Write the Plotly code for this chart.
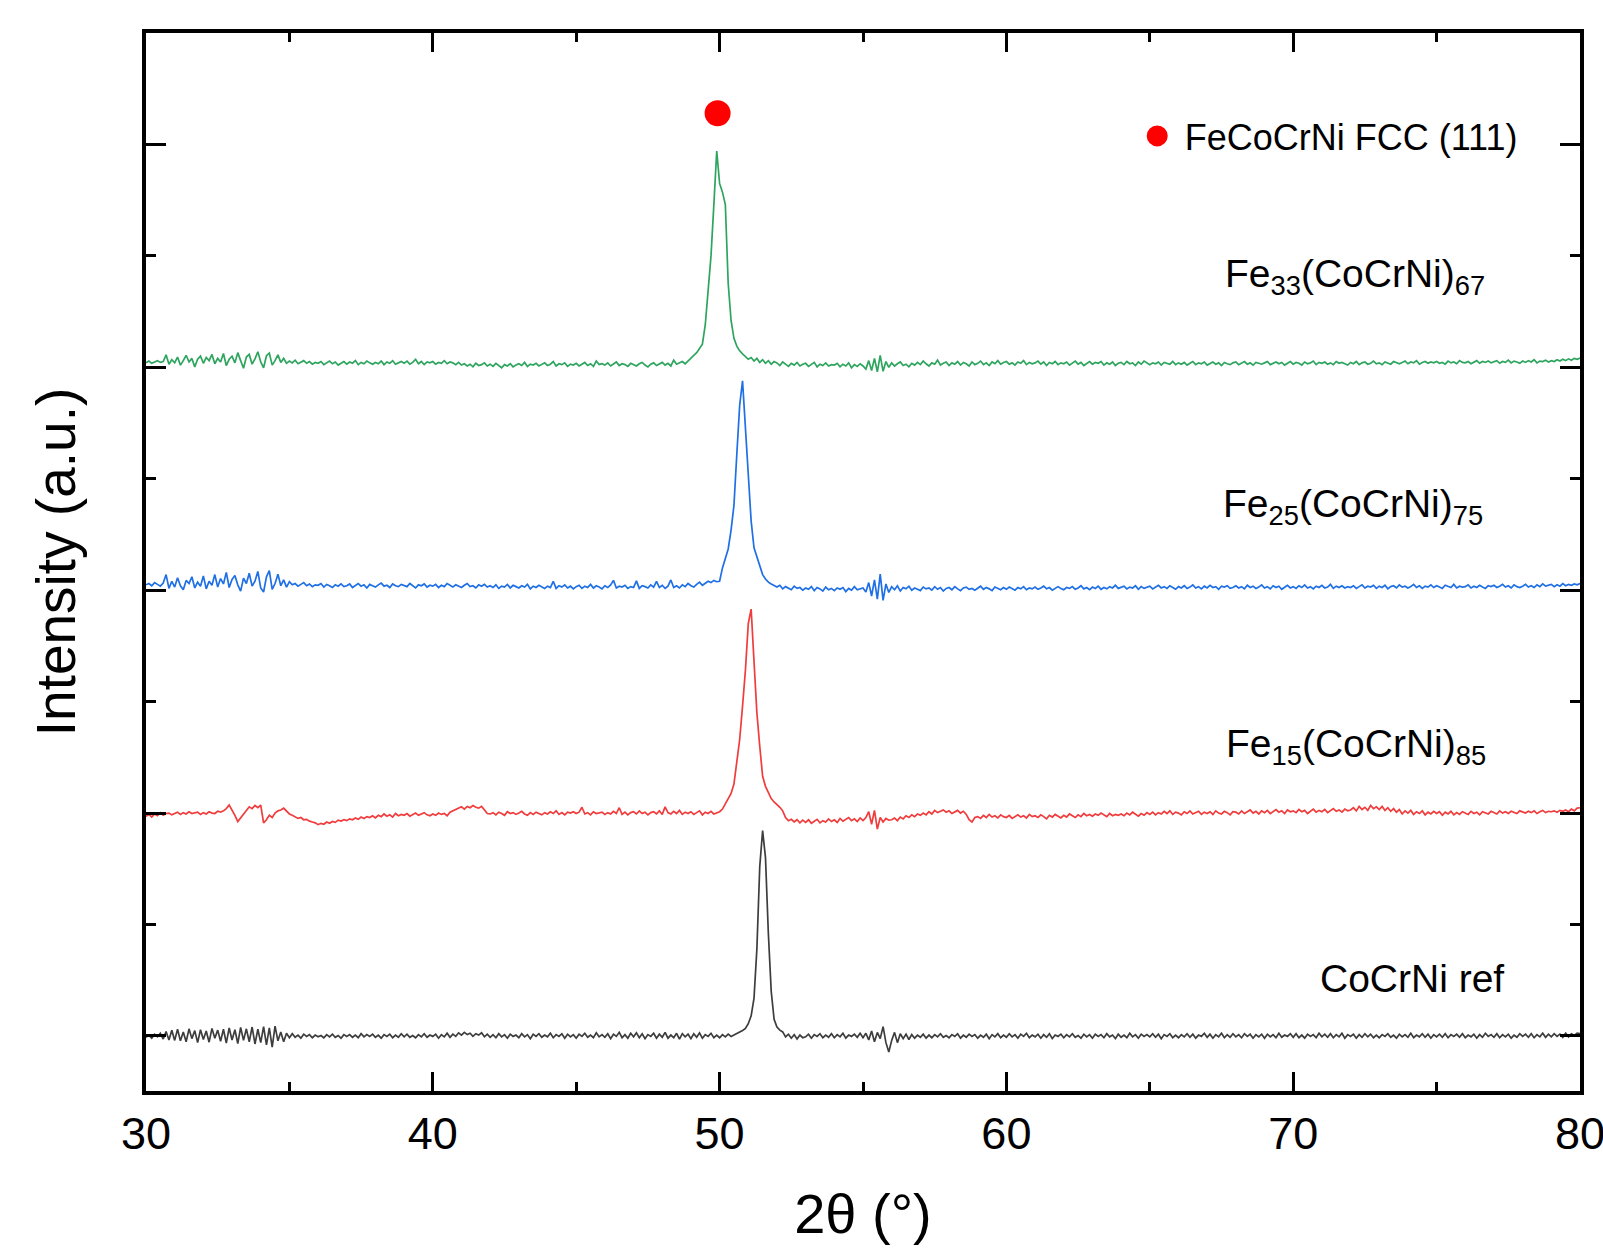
import numpy as np
import plotly.graph_objects as go

# 2-theta scan grid (degrees), 0.1 deg steps from 30 to 80
two_theta = np.round(30.0 + 0.1 * np.arange(501), 1)

# Intensities (a.u.), one value per 0.1 deg
cocrni_ref = [
    -6, 4, -10, 8, -4, 12, -14, 20, -18, 26,
    -20, 30, -22, 18, -26, 32, -12, 24, -30, 28,
    -16, 22, -28, 34, -10, 26, -24, 30, -32, 36,
    -18, 28, -34, 38, -20, 32, -26, 40, -36, 30,
    -30, 42, -40, 36, -50, 44, -22, 18, -26, 12,
    -8, 10, -6, 4, -10, 8, -2, 6, -8, 4,
    -4, 2, -8, 6, -4, 8, -6, 2, -10, 6,
    -2, 6, -6, 4, -8, 10, -4, 6, -2, 8,
    -6, 4, -10, 6, -2, 8, -8, 4, -6, 10,
    -4, 8, -6, 2, -8, 6, -4, 10, -6, 4,
    -2, 8, -10, 6, -4, 12, -6, 8, -2, 14,
    4, 16, 6, 12, -2, 10, 4, 14, -4, 8,
    -6, 6, -8, 10, -4, 6, -10, 8, -2, 4,
    -8, 10, -4, 6, -12, 8, -2, 10, -6, 4,
    -4, 12, -8, 6, -2, 10, -10, 8, -4, 6,
    -10, 8, -2, 12, -6, 4, -8, 14, -4, 6,
    -6, 10, -12, 8, -2, 16, -8, 6, -10, 12,
    -4, 14, -8, 10, -12, 6, -2, 12, -10, 8,
    -6, 16, -10, 4, -8, 12, -14, 10, -4, 8,
    -12, 10, -6, 14, -10, 6, -2, 12, -8, 4,
    -8, 6, -4, 8, -2, 4, 10, 18, 24, 34,
    55, 90, 170, 390, 760, 921, 800, 460, 200, 75,
    40, 26, 18, -4, 8, -10, 6, -14, 4, -8,
    -4, 8, -10, 6, -2, 10, -8, 4, -6, 10,
    -8, 6, -4, 12, -10, 4, -2, 8, -6, 12,
    -8, 12, -18, 22, -26, 16, -12, 42, -30, -72,
    -20, 16, -30, 10, -12, 8, -16, 6, -10, 4,
    -6, 8, -10, 4, -8, 6, -4, 10, -6, 2,
    -8, 6, -2, 10, -10, 4, -6, 8, -2, 6,
    -10, 4, -6, 8, -12, 6, -4, 10, -8, 4,
    -6, 10, -4, 6, -10, 8, -2, 12, -8, 4,
    -4, 8, -10, 6, -6, 10, -12, 4, -2, 8,
    -8, 6, -4, 10, -6, 2, -10, 8, -4, 6,
    -10, 8, -2, 6, -8, 10, -4, 4, -12, 8,
    -6, 4, -8, 12, -4, 6, -10, 8, -2, 6,
    -4, 10, -6, 8, -12, 6, -2, 10, -8, 4,
    -8, 6, -4, 10, -6, 8, -10, 4, -2, 12,
    -6, 8, -10, 6, -4, 12, -8, 6, -6, 10,
    -4, 6, -8, 10, -2, 8, -10, 6, -4, 8,
    -10, 8, -4, 6, -8, 12, -6, 4, -2, 10,
    -6, 10, -8, 4, -10, 8, -2, 6, -8, 12,
    -4, 8, -6, 10, -8, 6, -4, 12, -10, 6,
    -2, 8, -10, 6, -6, 10, -4, 8, -8, 4,
    -8, 6, -2, 10, -6, 4, -10, 8, -4, 6,
    -6, 12, -8, 4, -4, 10, -6, 8, -10, 6,
    -4, 8, -6, 10, -8, 6, -2, 8, -6, 10,
    -8, 4, -4, 8, -10, 6, -6, 12, -2, 6,
    -6, 10, -8, 6, -4, 8, -10, 4, -6, 10,
    -2, 8, -6, 10, -8, 6, -4, 12, -6, 8,
    -4, 10, -2, 8, -6, 12, -4, 10, 2, 12,
    10,
]

fe15 = [
    -14, -6, -18, -4, -12, 2, -10, -2, 0, -8,
    -2, 4, -6, 2, -4, 6, -2, 0, 4, -6,
    2, -4, 6, 0, -2, 8, 4, 10, 20, 36,
    14, -10, -38, -20, -2, 12, 28, 20, 34, 24,
    36, -44, -30, -10, -20, 0, 10, 14, 22, 8,
    -4, -10, -16, -24, -20, -30, -28, -36, -40, -44,
    -52, -46, -50, -40, -46, -38, -42, -32, -36, -30,
    -34, -26, -30, -22, -28, -18, -24, -16, -20, -12,
    -22, -10, -16, -4, -14, -8, -18, -2, -12, -6,
    -10, -2, -14, -6, 0, -10, -4, 2, -8, -12,
    -4, -10, 0, -6, -2, -12, 4, 10, 16, 20,
    28, 18, 30, 24, 34, 26, 22, 30, 12, -2,
    -4, 2, -8, 4, -2, -10, 6, -2, 2, -6,
    0, 8, -4, -10, 2, -6, 4, -2, -8, 2,
    -4, 6, -2, 10, -6, 2, -8, 4, 0, 6,
    -2, 4, 26, -4, 2, -8, 6, -2, 0, 4,
    -6, 2, -4, 8, -2, 24, -6, 4, -8, 2,
    6, -4, 10, -2, 4, -8, 2, 6, -4, 10,
    -6, 28, 2, -4, 8, -2, 12, -6, 4, -2,
    6, -6, 2, 10, -8, 4, -2, 8, -4, 2,
    6, 18, 40, 60, 88, 130, 220, 330, 480, 640,
    850, 915, 680, 450, 300, 165, 120, 90, 65, 50,
    40, 26, 10, -20, -34, -28, -40, -30, -44, -32,
    -42, -30, -46, -36, -28, -44, -34, -40, -26, -38,
    -30, -42, -24, -36, -28, -20, -34, -26, -38, -22,
    -34, -20, 6, -50, 12, -72, -20, -40, -24, -32,
    -30, -22, -34, -18, -26, -12, -20, -8, -16, -4,
    -10, 0, -8, 6, -4, 12, 2, 8, 14, 4,
    10, -2, 6, 12, 0, 8, -6, -30, -40, -20,
    -16, -24, -10, -20, -6, -18, -12, -22, -8, -16,
    -20, -10, -24, -14, -8, -18, -12, -22, -6, -16,
    -12, -20, -8, -16, -26, -10, -18, -6, -14, -22,
    -10, -18, -4, -14, -20, -8, -16, -2, -12, -6,
    -14, -4, -10, 0, -8, -16, -2, -12, -6, -10,
    -4, -12, 0, -8, 4, -6, -14, -2, -10, 2,
    -6, 4, -8, 2, -4, 8, -2, 10, -6, 4,
    0, -8, 6, -2, 10, -4, 2, 8, -6, 4,
    -2, 6, -6, 10, 0, -4, 8, 2, -8, 6,
    4, -4, 10, -2, 6, 14, 0, 8, -4, 10,
    2, 12, -2, 8, 16, 4, 10, -2, 14, 6,
    10, 2, 16, 6, 12, -2, 8, 18, 4, 12,
    6, 16, 2, 12, 20, 8, 14, 4, 18, 10,
    14, 24, 10, 30, 16, 26, 12, 34, 20, 28,
    16, 30, 12, 24, 8, 20, 4, 16, -4, 10,
    0, 12, -6, 6, -2, 10, -8, 4, -4, 8,
    -2, 6, -10, 4, -4, 8, -8, 2, -6, 6,
    0, -6, 8, -2, 4, -8, 6, 0, -4, 8,
    2, -4, 10, 0, 6, -2, 8, 4, -2, 10,
    4, 0, 8, 2, 10, -2, 6, 12, 2, 8,
    6, 10, 4, 12, 8, 14, 6, 18, 10, 22,
    24,
]

fe25 = [
    24, 30, 20, 34, 26, 18, 32, 70, 8, 40,
    14, 56, 20, 2, 44, 30, 60, 10, 36, 18,
    64, 6, 40, 22, 70, 14, 52, 28, 80, 12,
    48, 66, 24, -4, 54, 30, 76, 18, 40, 84,
    10, -8, 60, 88, 4, 30, 72, 20, 46, 14,
    38, 24, 30, 18, 26, 34, 20, 28, 16, 24,
    22, 30, 14, 26, 20, 12, 24, 18, 28, 16,
    20, 28, 12, 22, 30, 18, 24, 10, 26, 20,
    14, 24, 32, 18, 22, 12, 28, 20, 16, 26,
    22, 16, 30, 18, 10, 24, 20, 28, 14, 22,
    18, 26, 12, 22, 16, 30, 20, 14, 24, 18,
    12, 22, 30, 16, 20, 10, 24, 18, 26, 14,
    20, 12, 24, 8, 18, 14, 26, 10, 22, 16,
    10, 20, 14, 26, 6, 18, 12, 22, 16, 8,
    18, 12, 40, 8, 20, 14, 24, 10, 18, 6,
    16, 22, 8, 18, 12, 26, 10, 20, 14, 6,
    20, 12, 24, 44, 10, 18, 14, 22, 8, 16,
    12, 42, 8, 20, 16, 10, 24, 14, 40, 12,
    22, 8, 18, 46, 12, 20, 10, 24, 16, 30,
    20, 14, 26, 36, 22, 30, 40, 34, 44, 38,
    40, 100, 140, 185, 270, 380, 610, 830, 939, 720,
    515, 310, 190, 150, 110, 70, 50, 36, 28, 20,
    14, 22, 6, 16, 10, 2, 18, 8, 12, 0,
    10, 4, 16, -2, 12, 6, -4, 14, 2, 8,
    -2, 10, 4, 12, -6, 8, 0, 16, 2, 6,
    10, -8, 34, -26, 46, -40, 72, -46, 28, -10,
    16, 2, 20, -4, 12, 6, 18, 0, 10, 4,
    -2, 14, 6, 10, 0, 16, 4, 12, -4, 8,
    12, 2, 16, 6, -2, 10, 14, 4, 8, 0,
    10, 18, 4, 12, 6, -2, 14, 8, 2, 12,
    4, 14, 8, 0, 12, 6, 16, 2, 10, 6,
    14, 4, 10, 18, 6, 12, 0, 10, 16, 8,
    2, 12, 8, 16, 4, 10, 20, 6, 12, 2,
    14, 8, 18, 4, 12, 6, 16, 10, 22, 8,
    12, 18, 6, 14, 10, 20, 4, 16, 8, 12,
    18, 6, 14, 22, 10, 16, 8, 20, 12, 4,
    16, 10, 20, 8, 14, 24, 10, 16, 6, 18,
    10, 22, 12, 16, 4, 18, 14, 20, 8, 12,
    20, 10, 16, 6, 22, 12, 18, 8, 14, 24,
    10, 16, 6, 20, 12, 18, 4, 14, 22, 10,
    16, 8, 20, 12, 24, 10, 16, 6, 18, 12,
    22, 10, 14, 26, 8, 18, 12, 20, 10, 16,
    12, 20, 8, 16, 24, 10, 18, 14, 22, 8,
    18, 12, 22, 6, 16, 20, 10, 24, 14, 18,
    10, 16, 26, 12, 20, 8, 18, 14, 24, 12,
    20, 14, 8, 22, 16, 12, 26, 10, 18, 14,
    16, 24, 10, 18, 12, 22, 14, 8, 20, 16,
    22, 12, 18, 26, 14, 20, 10, 24, 16, 12,
    18, 26, 14, 20, 12, 24, 16, 28, 18, 22,
    26, 16, 24, 18, 30, 20, 26, 22, 28, 24,
    30,
]

fe33 = [
    20, 28, 18, 24, 30, 22, 26, 56, 14, 34,
    20, 46, 10, 30, 54, 24, 40, 2, 36, 50,
    18, 44, 30, 58, 16, 40, 24, 62, 8, 36,
    50, 20, 66, 30, -4, 46, 58, 14, 38, 70,
    24, -2, 52, 64, 10, 30, 56, 22, 40, 18,
    28, 20, 32, 16, 24, 30, 18, 26, 14, 22,
    18, 26, 12, 22, 28, 16, 24, 10, 20, 26,
    14, 24, 18, 30, 12, 22, 16, 28, 20, 14,
    22, 16, 28, 12, 24, 18, 30, 14, 20, 26,
    18, 28, 14, 22, 36, 16, 26, 12, 24, 20,
    26, 14, 22, 18, 30, 16, 24, 20, 12, 22,
    10, 16, 6, 14, 2, 18, 8, 12, 20, 6,
    14, 4, 18, 10, -2, 12, 6, 16, 2, 10,
    16, 8, 22, 4, 14, 10, 18, 6, 12, 20,
    8, 14, 26, 6, 16, 12, 20, 4, 14, 10,
    18, 6, 14, 22, 8, 16, 4, 28, 12, 16,
    10, 20, 6, 14, 24, 8, 16, 12, 4, 18,
    12, 6, 16, 22, 10, 2, 14, 20, 8, 16,
    22, 10, 18, 6, 32, 14, 20, 26, 16, 30,
    40, 54, 66, 86, 104, 190, 330, 500, 730, 970,
    825, 786, 730, 376, 210, 130, 95, 74, 60, 50,
    36, 44, 28, 40, 22, 34, 18, 30, 14, 26,
    20, 8, 24, 14, 4, 18, 10, 22, 6, 14,
    18, 4, 12, 22, 2, 14, 8, 20, 6, 12,
    10, 18, 2, 14, 6, 20, -2, 12, 4, 16,
    6, -8, 30, -14, 40, -20, 54, -18, 26, 0,
    20, 6, 16, 24, 8, 14, 2, 18, 10, 22,
    12, 28, 16, 6, 20, 14, 32, 10, 18, 24,
    8, 20, 14, 26, 10, 22, 16, 6, 24, 12,
    18, 28, 12, 20, 8, 24, 16, 30, 14, 22,
    26, 14, 20, 10, 24, 18, 30, 12, 22, 16,
    20, 28, 14, 24, 8, 22, 16, 26, 12, 20,
    16, 24, 10, 20, 28, 14, 22, 8, 18, 26,
    14, 22, 18, 26, 10, 20, 14, 24, 8, 18,
    22, 12, 26, 16, 20, 8, 24, 14, 28, 18,
    12, 20, 16, 24, 10, 22, 18, 14, 26, 12,
    20, 14, 22, 10, 18, 26, 12, 20, 16, 24,
    10, 18, 24, 14, 20, 8, 22, 16, 12, 20,
    24, 12, 18, 26, 14, 20, 10, 22, 18, 14,
    20, 26, 12, 18, 24, 16, 22, 10, 20, 26,
    14, 22, 18, 10, 24, 16, 20, 28, 12, 22,
    18, 24, 14, 20, 12, 26, 18, 22, 16, 10,
    22, 16, 26, 12, 20, 24, 14, 18, 28, 16,
    20, 12, 24, 18, 14, 26, 20, 16, 22, 28,
    16, 24, 20, 30, 14, 22, 26, 18, 24, 20,
    26, 18, 22, 14, 28, 20, 24, 16, 30, 22,
    20, 26, 16, 24, 30, 18, 26, 22, 28, 20,
    24, 30, 18, 26, 22, 32, 20, 28, 24, 18,
    28, 22, 30, 24, 34, 20, 28, 26, 32, 24,
    30, 26, 34, 28, 36, 30, 38, 32, 40, 36,
    42,
]

sample_series = [cocrni_ref, fe15, fe25, fe33]
sample_names = [
    "CoCrNi ref",
    "Fe<sub>15</sub>(CoCrNi)<sub>85</sub>",
    "Fe<sub>25</sub>(CoCrNi)<sub>75</sub>",
    "Fe<sub>33</sub>(CoCrNi)<sub>67</sub>",
]
stack_offsets = [0, 1000, 2000, 3000]
line_colors = ["#3d3d3d", "#f03c3c", "#1f6fe5", "#2ea55e"]
label_x = [74.15, 72.18, 72.09, 72.14]
label_y = [256, 1300, 2377, 3408]

# FCC (111) reflection marker above the Fe33 peak
fcc_peak_x = [49.93]
fcc_marker_y = [4140]
fcc_name = "FeCoCrNi FCC (111)"

FONT = "Arial, 'Liberation Sans', Helvetica, sans-serif"

fig = go.Figure()
for vals, name, off, col in zip(sample_series, sample_names, stack_offsets, line_colors):
    assert len(vals) == len(two_theta)
    fig.add_trace(go.Scatter(
        x=two_theta, y=np.array(vals) + off, mode="lines", name=name,
        line=dict(color=col, width=1.7), showlegend=False, hoverinfo="skip",
    ))

fig.add_trace(go.Scatter(
    x=fcc_peak_x, y=fcc_marker_y, mode="markers", name=fcc_name,
    marker=dict(color="#ff0000", size=21, line=dict(width=5, color="#ff0000")),
    showlegend=True,
))

for name, lx, ly in zip(sample_names, label_x, label_y):
    fig.add_annotation(x=lx, y=ly, text=name, showarrow=False,
                       xanchor="center", yanchor="middle",
                       font=dict(family=FONT, size=39, color="black"))

axis_common = dict(
    showline=True, linewidth=3.5, linecolor="black", mirror="ticks",
    ticks="inside", tickwidth=3, tickcolor="black", showgrid=False, zeroline=False,
)

fig.update_xaxes(
    range=[30, 80], tick0=30, dtick=10, ticklen=19, ticklabeloverflow="allow",
    tickfont=dict(family=FONT, size=45, color="black"),
    minor=dict(dtick=5, ticks="inside", ticklen=9, tickwidth=3, tickcolor="black"),
    title=dict(text="2θ (°)", font=dict(family=FONT, size=56, color="black"), standoff=37),
    automargin=False, **axis_common,
)
fig.update_yaxes(
    range=[-247, 4500], tickmode="array", tickvals=[0, 1000, 2000, 3000, 4000],
    ticklen=20, showticklabels=False,
    minor=dict(tickmode="array", tickvals=[500, 1500, 2500, 3500], ticks="inside",
               ticklen=10, tickwidth=3, tickcolor="black"),
    title=dict(text="Intensity (a.u.)", font=dict(family=FONT, size=55, color="black"), standoff=50),
    automargin=False, **axis_common,
)

fig.update_layout(
    width=1603, height=1257,
    margin=dict(l=146, r=23, t=33, b=166),
    plot_bgcolor="white", paper_bgcolor="white",
    font=dict(family=FONT, color="black"),
    legend=dict(x=0.686, y=0.9026, xanchor="left", yanchor="middle",
                itemwidth=45,
                bgcolor="rgba(0,0,0,0)", borderwidth=0,
                font=dict(family=FONT, size=36, color="black")),
)

fig.write_html(
    "out.html",
    config={"displayModeBar": False},
    post_script="document.body.style.margin='0';document.body.style.overflow='hidden';",
)
